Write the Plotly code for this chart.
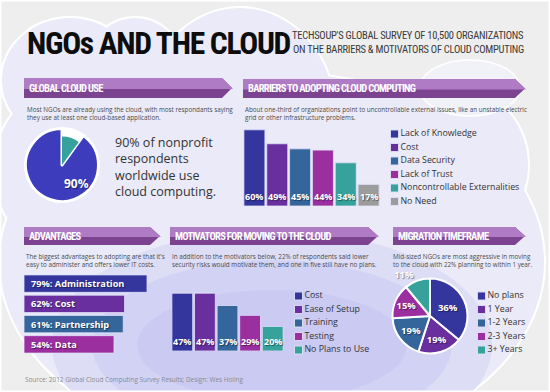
import plotly.graph_objects as go

W, H = 550, 392


def X(px):
    return px / W


def Y(py):
    return 1 - py / H


# ---------------- data ----------------
title_text = "NGOs AND THE CLOUD"
subtitle_lines = ["TECHSOUP'S GLOBAL SURVEY OF 10,500 ORGANIZATIONS",
                  "ON THE BARRIERS & MOTIVATORS OF CLOUD COMPUTING"]
section_titles = ["GLOBAL CLOUD USE", "BARRIERS TO ADOPTING CLOUD COMPUTING",
                  "ADVANTAGES", "MOTIVATORS FOR MOVING TO THE CLOUD",
                  "MIGRATION TIMEFRAME"]
section_notes = [
    "Most NGOs are already using the cloud, with most respondants saying<br>they use at least one cloud-based application.",
    "About one-third of organizations point to uncontrollable external issues, like an unstable electric<br>grid or other infrastructure problems.",
    "The biggest advantages to adopting are that it's<br>easy to administer and offers lower IT costs.",
    "In addition to the motivators below, 22% of respondents said lower<br>security risks would motivate them, and one in five still have no plans.",
    "Mid-sized NGOs are most aggressive in moving<br>to the cloud with 22% planning to within 1 year.",
]
cloud_use_labels = ["Not using the cloud", "Using the cloud"]
cloud_use_values = [10, 90]
cloud_use_statement = ["90% of nonprofit", "respondents", "worldwide use", "cloud computing."]

barrier_labels = ["Lack of Knowledge", "Cost", "Data Security", "Lack of Trust",
                  "Noncontrollable Externalities", "No Need"]
barrier_values = [60, 49, 45, 44, 34, 17]

advantage_labels = ["Administration", "Cost", "Partnership", "Data"]
advantage_values = [79, 62, 61, 54]

motivator_labels = ["Cost", "Ease of Setup", "Training", "Testing", "No Plans to Use"]
motivator_values = [47, 47, 37, 29, 20]

timeframe_labels = ["No plans", "1 Year", "1-2 Years", "2-3 Years", "3+ Years"]
timeframe_values = [36, 19, 19, 15, 11]

source_text = "Source: 2012 Global Cloud Computing Survey Results; Design: Wes Holing"

# ---------------- style ----------------
INDIGO = "#35369d"
PURPLE = "#6a2f9f"
STEEL = "#34669c"
MAGENTA = "#9b2fa0"
TEAL = "#36a29b"
GREY = "#9c9c9c"
barrier_colors = [INDIGO, PURPLE, STEEL, MAGENTA, TEAL, GREY]
advantage_colors = [INDIGO, PURPLE, STEEL, MAGENTA]
motivator_colors = [INDIGO, PURPLE, STEEL, MAGENTA, TEAL]
timeframe_colors = [INDIGO, PURPLE, STEEL, MAGENTA, TEAL]

COND = "Roboto Condensed, Roboto, sans-serif"
BODY = "Open Sans, sans-serif"
SHADOW = "1px 1px 1px rgba(0,0,0,0.45)"
BAR_LINE = dict(color="rgba(225,225,250,0.8)", width=1)
LABEL_FONT = dict(family=BODY, size=9, color="white", weight="bold", shadow=SHADOW)

ADV_BASE = -14.2


def spaced(text, ls):
    return f'<span style="letter-spacing:{ls}px">{text}</span>'


# ---------------- background shapes ----------------
shapes = []


def ellipse(cx, cy, rx, ry, **kw):
    d = dict(type="circle", xref="paper", yref="paper", layer="below",
             x0=X(cx - rx), x1=X(cx + rx), y0=Y(cy + ry), y1=Y(cy - ry))
    d.update(kw)
    return d


lobes = [
    (272, 262, 272, 190),
    (240, 115, 95, 107),
    (450, 165, 78, 80),
    (70, 80, 68, 62),
    (135, 60, 45, 42),
    (40, 170, 45, 70),
]
BASE_FILL = "#eaeaf8"
for (cx, cy, rx, ry) in lobes:
    shapes.append(ellipse(cx, cy, rx, ry, fillcolor=BASE_FILL, line=dict(color="white", width=4)))
for (cx, cy, rx, ry) in lobes:
    shapes.append(ellipse(cx, cy, rx, ry, fillcolor=BASE_FILL, line=dict(width=0)))
shapes.append(ellipse(470, 88, 50, 28, fillcolor="#f1f1f8", line=dict(color="white", width=1.5)))
for (rx, ry) in [(220, 115), (180, 85), (135, 55)]:
    shapes.append(ellipse(272, 345, rx, ry, fillcolor="rgba(170,170,240,0.2)", line=dict(width=0)))
shapes.append(dict(type="rect", xref="paper", yref="paper", layer="above",
                   x0=0, x1=1, y0=0, y1=1, line=dict(color="white", width=3)))

banners = [(24, 232, 78, 98), (243, 525, 79, 98), (24, 160, 227, 245),
           (170, 378, 227, 245), (393, 525, 227, 245)]


def path(points):
    return "M " + " L ".join(f"{X(px):.5f},{Y(py):.5f}" for px, py in points) + " Z"


for (x0, x1, y0, y1) in banners:
    ym = y0 + (y1 - y0) * 0.55
    yc = (y0 + y1) / 2
    d = 10
    shapes.append(dict(type="path", xref="paper", yref="paper", layer="below",
                       path=path([(x0, y0), (x1 - d, y0), (x1, yc), (x1 - d, y1), (x0, y1)]),
                       fillcolor="#7c4490", line=dict(width=0)))
    shapes.append(dict(type="path", xref="paper", yref="paper", layer="below",
                       path=path([(x0, y0), (x1 - d, y0), (x1 - d + d * (ym - y0) / (yc - y0), ym),
                                  (x0, ym)]),
                       fillcolor="#b07bc5", line=dict(width=0)))

# ---------------- annotations ----------------
ann = []
ann.append(dict(x=X(25), y=Y(43), xref="paper", yref="paper", xanchor="left", yanchor="middle",
                text=spaced(title_text, -1.3), showarrow=False,
                font=dict(family=COND, size=31.5, color="#0d0d0d", weight="bold")))
for i, line in enumerate(subtitle_lines):
    ann.append(dict(x=X(526), y=Y(35 + 15 * i), xref="paper", yref="paper", xanchor="right",
                    yanchor="middle", text=spaced(line, -0.25), showarrow=False,
                    font=dict(family=COND, size=10.5, color="#3a3a3a")))
for (x0, x1, y0, y1), t in zip(banners, section_titles):
    ann.append(dict(x=X(x0 + 3), y=Y((y0 + y1) / 2), xref="paper", yref="paper", xanchor="left",
                    yanchor="middle", text=spaced(t, -0.7), showarrow=False,
                    font=dict(family=COND, size=10.5, color="white", weight="bold")))
note_pos = [(25, 103), (243, 103.5), (24, 250), (170, 250), (391, 250)]
for (px, py), t in zip(note_pos, section_notes):
    ann.append(dict(x=X(px), y=Y(py), xref="paper", yref="paper", xanchor="left", yanchor="top",
                    align="left", text=t, showarrow=False,
                    font=dict(family=BODY, size=6.3, color="#4a4a4a")))
ann.append(dict(x=X(113), y=Y(132), xref="paper", yref="paper", xanchor="left", yanchor="top",
                align="left", text="<br>".join(cloud_use_statement), showarrow=False,
                font=dict(family=BODY, size=12.5, color="#333333")))
ann.append(dict(x=X(62), y=Y(183), xref="paper", yref="paper", text=f"{cloud_use_values[1]}%",
                showarrow=False, font=dict(family=BODY, size=12, color="white", weight="bold",
                                           shadow=SHADOW)))
ann.append(dict(x=X(23), y=Y(379), xref="paper", yref="paper", xanchor="left", yanchor="middle",
                text=source_text, showarrow=False,
                font=dict(family=BODY, size=6.4, color="#8a8a8a")))

for lab, v in zip(barrier_labels, barrier_values):
    ann.append(dict(x=lab, y=0, xref="x", yref="y", yanchor="bottom", yshift=1, text=f"{v}%",
                    showarrow=False, font=LABEL_FONT))
for lab, v in zip(motivator_labels, motivator_values):
    ann.append(dict(x=lab, y=0, xref="x3", yref="y3", yanchor="bottom", yshift=1, text=f"{v}%",
                    showarrow=False, font=LABEL_FONT))
for lab, v in zip(advantage_labels, advantage_values):
    ann.append(dict(x=ADV_BASE, y=lab, xref="x2", yref="y2", xanchor="left", xshift=5,
                    text=f"{v}%: {lab}", showarrow=False,
                    font=dict(family=BODY, size=9.2, color="white", weight="bold", shadow=SHADOW)))

# ---------------- traces ----------------
fig = go.Figure()

fig.add_trace(go.Pie(labels=cloud_use_labels, values=cloud_use_values, sort=False,
                     direction="clockwise", rotation=0, textinfo="none", hoverinfo="skip",
                     marker=dict(colors=["#ffffff", "#3c3cbc"], line=dict(color="white", width=3)),
                     domain=dict(x=[X(25.5), X(98.5)], y=[Y(201.5), Y(128.5)])))
fig.add_trace(go.Pie(labels=cloud_use_labels, values=cloud_use_values, sort=False,
                     direction="clockwise", rotation=0, textinfo="none", hoverinfo="skip",
                     marker=dict(colors=[TEAL, "rgba(0,0,0,0)"], line=dict(width=0)),
                     domain=dict(x=[X(33.5), X(90.5)], y=[Y(193.5), Y(136.5)])))

fig.add_trace(go.Bar(x=barrier_labels, y=barrier_values, width=0.92, hoverinfo="skip",
                     marker=dict(color=barrier_colors, line=BAR_LINE), xaxis="x", yaxis="y"))
fig.add_trace(go.Bar(y=advantage_labels, x=[v - ADV_BASE for v in advantage_values], base=ADV_BASE,
                     orientation="h", width=0.86, hoverinfo="skip",
                     marker=dict(color=advantage_colors, line=BAR_LINE), xaxis="x2", yaxis="y2"))
fig.add_trace(go.Bar(x=motivator_labels, y=motivator_values, width=0.92, hoverinfo="skip",
                     marker=dict(color=motivator_colors, line=BAR_LINE), xaxis="x3", yaxis="y3"))

LEG_FONT = dict(family=BODY, size=8.8, color="#333333")
for labels, colors, xa, ya in [(barrier_labels, barrier_colors, "x4", "y4"),
                               (motivator_labels, motivator_colors, "x5", "y5"),
                               (timeframe_labels, timeframe_colors, "x6", "y6")]:
    fig.add_trace(go.Scatter(x=[0] * len(labels), y=labels, mode="markers+text", text=labels,
                             textposition="middle right", textfont=LEG_FONT, cliponaxis=False,
                             hoverinfo="skip",
                             marker=dict(symbol="square", size=8, color=colors,
                                         line=dict(color="rgba(225,225,250,0.9)", width=1)),
                             xaxis=xa, yaxis=ya))

fig.add_trace(go.Pie(labels=timeframe_labels, values=timeframe_values, sort=False,
                     direction="clockwise", rotation=0, hoverinfo="skip",
                     texttemplate="%{value}%", textposition=["inside"] * 4 + ["outside"],
                     insidetextorientation="horizontal",
                     textfont=dict(family=BODY, size=9.5, color="white", weight="bold", shadow=SHADOW),
                     marker=dict(colors=timeframe_colors, line=dict(color="white", width=2)),
                     domain=dict(x=[X(392.5), X(467.5)], y=[Y(353.5), Y(278.5)])))


def hid(domain, **kw):
    d = dict(domain=domain, visible=False, fixedrange=True)
    d.update(kw)
    return d


nb, nm, nt = len(barrier_labels), len(motivator_labels), len(timeframe_labels)
fig.update_layout(
    width=W, height=H, margin=dict(l=0, r=0, t=0, b=0),
    paper_bgcolor="#eeeeee", plot_bgcolor="rgba(0,0,0,0)", showlegend=False,
    shapes=shapes, annotations=ann,
    xaxis=hid([X(243), X(380)], type="category", range=[-0.5, nb - 0.5]),
    yaxis=hid([Y(206), Y(79)], range=[0, 100]),
    xaxis2=hid([X(24), X(24 + (100 - ADV_BASE) * 1.32)], range=[ADV_BASE, 100]),
    yaxis2=hid([Y(354.5), Y(273.5)], type="category",
               range=[len(advantage_labels) - 0.5, -0.5]),
    xaxis3=hid([X(171), X(284)], type="category", range=[-0.5, nm - 0.5]),
    yaxis3=hid([Y(351), Y(228)], range=[0, 100]),
    xaxis4=hid([X(394.5), X(540)], range=[0, 1]),
    yaxis4=hid([Y(134 + 13.5 * (nb - 0.5)), Y(134 - 13.5 * 0.5)], type="category",
               range=[nb - 0.5, -0.5]),
    xaxis5=hid([X(298.5), X(380)], range=[0, 1]),
    yaxis5=hid([Y(296 + 13.5 * (nm - 0.5)), Y(296 - 13.5 * 0.5)], type="category",
               range=[nm - 0.5, -0.5]),
    xaxis6=hid([X(481.5), X(545)], range=[0, 1]),
    yaxis6=hid([Y(296 + 13.5 * (nt - 0.5)), Y(296 - 13.5 * 0.5)], type="category",
               range=[nt - 0.5, -0.5]),
)

fig.write_html("out.html", config={"displayModeBar": False, "staticPlot": True},
               post_script="document.body.style.margin='0';document.body.style.overflow='hidden';")
